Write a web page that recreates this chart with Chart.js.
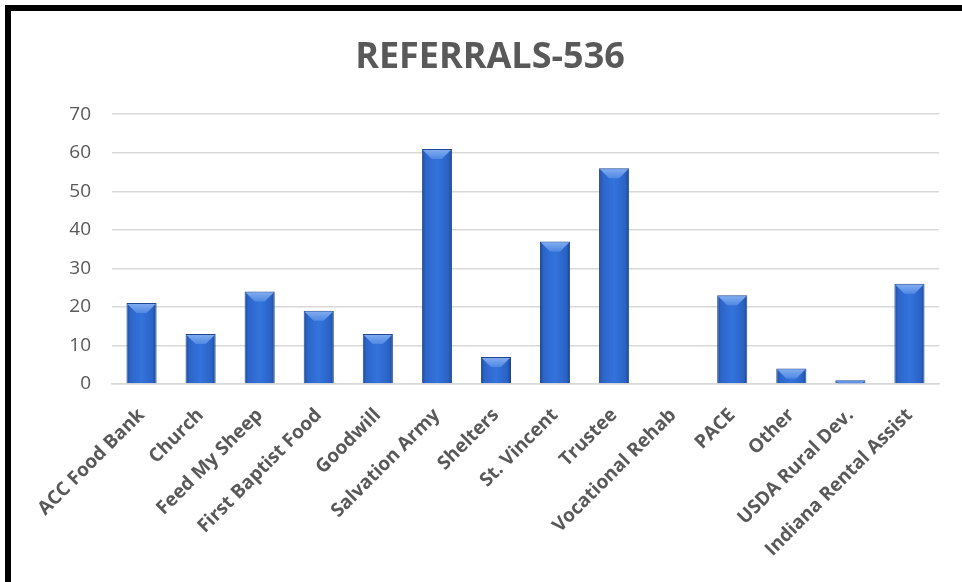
<!DOCTYPE html>
<html>
<head>
<meta charset="utf-8">
<script src="https://cdn.jsdelivr.net/npm/chart.js@4.4.0/dist/chart.umd.min.js"></script>
<style>
  html, body { margin: 0; padding: 0; background: #fff; overflow: hidden; }
  .frame {
    position: absolute; left: 5px; top: 5px; width: 951px; height: 571px;
    border-top: 6px solid #000; border-left: 6px solid #000; background: #fff;
  }
  .box { position: absolute; left: 0; top: 0; width: 951px; height: 571px; }
</style>
</head>
<body>
<div class="frame"><div class="box"><canvas id="chart"></canvas></div></div>
<script>
// données
const categories = [
  'ACC Food Bank', 'Church', 'Feed My Sheep', 'First Baptist Food', 'Goodwill',
  'Salvation Army', 'Shelters', 'St. Vincent', 'Trustee', 'Vocational Rehab',
  'PACE', 'Other', 'USDA Rural Dev.', 'Indiana Rental Assist',
];
const referrals = [21, 13, 24, 19, 13, 61, 7, 37, 56, 0, 23, 4, 1, 26];
const yTicks = [0, 10, 20, 30, 40, 50, 60, 70];

const BAR_PCT = 0.51;
const grey = '#595959';

function barFill(c) {
  const ch = c.chart;
  const xs = ch.scales && ch.scales.x;
  if (!ch.chartArea || !xs || !xs.width) return '#2e68c8';
  const cx = xs.getPixelForValue(c.dataIndex);
  const w = xs.width / categories.length * BAR_PCT;
  const g = ch.ctx.createLinearGradient(cx - w / 2, 0, cx + w / 2, 0);
  g.addColorStop(0, '#1c4894');
  g.addColorStop(0.12, '#2c65c9');
  g.addColorStop(0.5, '#3373dc');
  g.addColorStop(0.88, '#2a62c4');
  g.addColorStop(1, '#1a438a');
  return g;
}

// biseau clair en haut de chaque barre
const bevel = {
  id: 'bevel',
  afterDatasetsDraw(chart) {
    const ctx = chart.ctx;
    chart.getDatasetMeta(0).data.forEach((bar) => {
      const h = bar.base - bar.y;
      if (h <= 0.5) return;
      const l = bar.x - bar.width / 2, r = bar.x + bar.width / 2;
      const d = Math.min(10, h, bar.width / 2);
      ctx.save();
      const g = ctx.createLinearGradient(0, bar.y, 0, bar.y + d);
      g.addColorStop(0, '#86aff0');
      g.addColorStop(1, '#4f88e4');
      ctx.fillStyle = g;
      ctx.beginPath();
      ctx.moveTo(l + 1, bar.y + 1);
      ctx.lineTo(r - 1, bar.y + 1);
      ctx.lineTo(r - d, bar.y + d);
      ctx.lineTo(l + d, bar.y + d);
      ctx.closePath();
      ctx.fill();
      ctx.restore();
    });
  },
};

new Chart(document.getElementById('chart'), {
  type: 'bar',
  data: {
    labels: categories,
    datasets: [{
      label: 'Referrals',
      data: referrals,
      backgroundColor: barFill,
      borderColor: '#20488f',
      borderWidth: 1,
      categoryPercentage: 1,
      barPercentage: BAR_PCT,
    }],
  },
  options: {
    responsive: true,
    maintainAspectRatio: false,
    animation: false,
    layout: { padding: { left: 7, right: 0, top: 0, bottom: 0 } },
    plugins: {
      legend: { display: false },
      tooltip: { enabled: false },
      title: {
        display: true,
        text: 'REFERRALS-536',
        color: grey,
        font: { family: 'Open Sans', size: 36, weight: 'bold' },
        padding: { top: 25, bottom: 35 },
      },
    },
    scales: {
      x: {
        grid: { display: false, drawTicks: false },
        border: { display: true, color: '#d9d9d9', width: 1.5 },
        ticks: {
          color: grey,
          font: { family: 'Open Sans', size: 19, weight: 'bold' },
          minRotation: 45, maxRotation: 45,
          autoSkip: false,
          padding: 20,
        },
        afterFit: (s) => { s.height = 198; },
      },
      y: {
        min: 0, max: 70,
        afterBuildTicks: (s) => { s.ticks = yTicks.map((v) => ({ value: v })); },
        grid: { color: '#d9d9d9', lineWidth: 1.5, drawTicks: false },
        border: { display: false },
        ticks: {
          color: grey,
          font: { family: 'Open Sans', size: 19 },
          padding: 21,
        },
        afterFit: (s) => { s.width = 94; },
      },
      // marge droite vide, pour garder le titre centré sur tout le cadre
      yr: {
        type: 'linear',
        position: 'right',
        grid: { display: false, drawTicks: false },
        border: { display: false },
        ticks: { display: false },
        afterFit: (s) => { s.width = 23; },
      },
    },
  },
  plugins: [bevel],
});
</script>
</body>
</html>
